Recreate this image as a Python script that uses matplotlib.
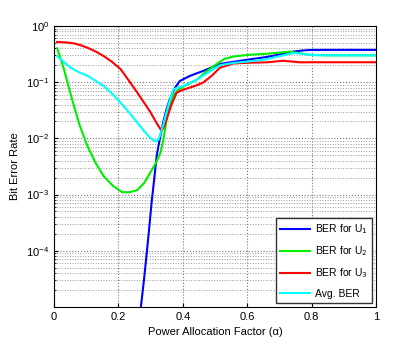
import numpy as np
import matplotlib
matplotlib.use("Agg")
import matplotlib.pyplot as plt
from matplotlib.ticker import LogLocator, NullFormatter

plt.rcParams['font.family'] = ['Liberation Sans', 'DejaVu Sans']

# values
x_u1 = [0.27, 0.28, 0.288, 0.296, 0.303, 0.311, 0.319, 0.329, 0.339, 0.349, 0.36, 0.375, 0.391,
        0.422, 0.463, 0.515, 0.557, 0.61, 0.66, 0.7, 0.743, 0.77, 0.795, 0.85, 1.0]
ber_u1 = [1e-5, 3.2e-5, 9e-5, 2.6e-4, 7e-4, 1.8e-3, 4.9e-3, 1.0e-2, 1.9e-2, 3.2e-2, 0.05, 0.078, 0.105,
          0.129, 0.158, 0.21, 0.23, 0.255, 0.28, 0.31, 0.35, 0.365, 0.374, 0.375, 0.375]

x_u2 = [0.01, 0.02, 0.031, 0.045, 0.062, 0.08, 0.104, 0.13, 0.155, 0.185, 0.212, 0.235, 0.259, 0.28,
        0.30, 0.316, 0.331, 0.34, 0.35, 0.36, 0.371, 0.385, 0.4, 0.42, 0.443, 0.47, 0.505, 0.53,
        0.557, 0.6, 0.66, 0.7, 0.733, 0.76, 0.795, 0.85, 1.0]
ber_u2 = [0.40, 0.27, 0.17, 0.085, 0.038, 0.017, 7.3e-3, 3.6e-3, 2.1e-3, 1.4e-3, 1.1e-3, 1.1e-3,
          1.2e-3, 1.6e-3, 2.5e-3, 3.6e-3, 5.6e-3, 9.5e-3, 0.022, 0.04, 0.058, 0.072, 0.082, 0.094,
          0.11, 0.15, 0.21, 0.26, 0.285, 0.305, 0.32, 0.335, 0.35, 0.33, 0.305, 0.30, 0.30]

x_u3 = [0.01, 0.035, 0.062, 0.085, 0.104, 0.13, 0.155, 0.18, 0.207, 0.236, 0.259, 0.28, 0.30, 0.318,
        0.334, 0.342, 0.35, 0.365, 0.381, 0.4, 0.422, 0.443, 0.463, 0.49, 0.515, 0.557, 0.61, 0.66,
        0.712, 0.74, 0.764, 0.8, 1.0]
ber_u3 = [0.52, 0.51, 0.49, 0.45, 0.41, 0.35, 0.29, 0.23, 0.17, 0.10, 0.065, 0.043, 0.029, 0.019,
          0.0136, 0.016, 0.022, 0.04, 0.065, 0.073, 0.08, 0.088, 0.098, 0.13, 0.18, 0.215, 0.222,
          0.225, 0.24, 0.232, 0.225, 0.226, 0.226]

x_avg = [0.01, 0.03, 0.052, 0.078, 0.104, 0.13, 0.155, 0.18, 0.207, 0.233, 0.259, 0.28, 0.30, 0.316,
         0.325, 0.339, 0.35, 0.36, 0.371, 0.385, 0.401, 0.443, 0.48, 0.515, 0.557, 0.61, 0.66,
         0.7, 0.743, 0.77, 0.795, 0.85, 1.0]
ber_avg = [0.29, 0.23, 0.18, 0.15, 0.13, 0.105, 0.085, 0.063, 0.043, 0.029, 0.019, 0.0135, 0.010,
           0.0088, 0.0095, 0.017, 0.03, 0.048, 0.075, 0.08, 0.085, 0.11, 0.15, 0.2, 0.22, 0.235,
           0.255, 0.29, 0.33, 0.32, 0.305, 0.30, 0.30]

fig = plt.figure(figsize=(4.15, 3.46), dpi=100)
ax = fig.add_axes([0.130, 0.113, 0.776, 0.812])

ax.semilogy(x_u1, ber_u1, color='#0000ff', lw=1.5, label='BER for U$_1$')
ax.semilogy(x_u2, ber_u2, color='#00ee00', lw=1.5, label='BER for U$_2$')
ax.semilogy(x_u3, ber_u3, color='#ff0000', lw=1.5, label='BER for U$_3$')
ax.semilogy(x_avg, ber_avg, color='#00ffff', lw=1.5, label='Avg. BER')

ax.set_xlim(0, 1)
ax.set_ylim(1e-5, 1)
ax.set_xticks([0, 0.2, 0.4, 0.6, 0.8, 1])
ax.set_xticklabels(['0', '0.2', '0.4', '0.6', '0.8', '1'])
ax.set_yticks([1e-4, 1e-3, 1e-2, 1e-1, 1])
ax.yaxis.set_minor_locator(LogLocator(base=10, subs=np.arange(2, 10)))
ax.yaxis.set_minor_formatter(NullFormatter())
ax.tick_params(labelsize=8, direction='in', length=3)
ax.tick_params(which='minor', direction='in', length=1.5)
ax.grid(True, which='major', ls=':', color='#777777', lw=0.8)
ax.grid(True, which='minor', axis='y', ls=':', color='#999999', lw=0.7)

ax.set_xlabel('Power Allocation Factor (α)', fontsize=8)
ax.set_ylabel('Bit Error Rate', fontsize=8)

leg = ax.legend(loc='lower right', fontsize=7.5, fancybox=False, framealpha=1,
                edgecolor='#333333', handlelength=2.8, handletextpad=0.5,
                labelspacing=0.8, borderaxespad=0.4)

fig.savefig('out.png', dpi=100)
